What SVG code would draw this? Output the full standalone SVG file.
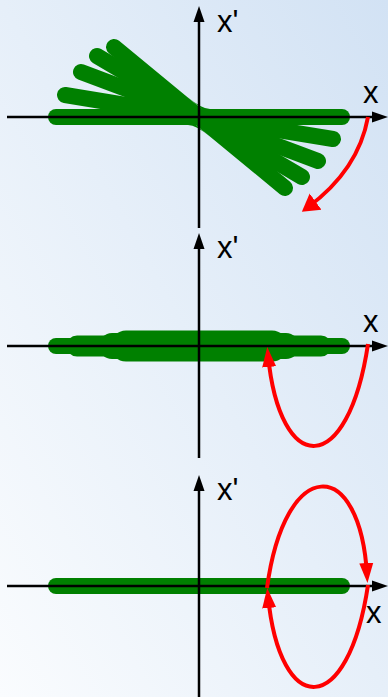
<svg xmlns="http://www.w3.org/2000/svg" width="388" height="697" viewBox="0 0 388 697">
  <defs>
    <linearGradient id="bg" x1="0" y1="1" x2="1" y2="0">
      <stop offset="0" stop-color="#fafcfe"/>
      <stop offset="1" stop-color="#d2e2f4"/>
    </linearGradient>
    <marker id="axisHead" markerUnits="userSpaceOnUse" viewBox="0 -6 16 12" refX="10" refY="0" markerWidth="16" markerHeight="12" orient="auto">
      <path d="M0,-5.5 L16,0 L0,5.5 z" fill="#000"/>
    </marker>
    <marker id="redHead" markerUnits="userSpaceOnUse" viewBox="0 -8 20 16" refX="12" refY="0" markerWidth="20" markerHeight="16" orient="auto">
      <path d="M0,-7 L20,0 L0,7 z" fill="#ff0000"/>
    </marker>
    <marker id="redHeadWide" markerUnits="userSpaceOnUse" viewBox="0 -11 18 22" refX="10" refY="0" markerWidth="18" markerHeight="22" orient="auto">
      <path d="M0,-10 L17,0 L0,10 z" fill="#ff0000"/>
    </marker>
  </defs>
  <style>
    .bar { stroke: #008000; stroke-linecap: round; fill: none; }
    .fillet { fill: #008000; stroke: none; }
    .axis { stroke: #000; stroke-width: 2.5; fill: none; marker-end: url(#axisHead); }
    .flow { stroke: #ff0000; stroke-width: 4; fill: none; marker-end: url(#redHead); }
    .lbl { font-family: "Liberation Sans", Arial, sans-serif; font-size: 31px; fill: #000; }
  </style>
  <rect x="0" y="0" width="388" height="697" fill="url(#bg)"/>

  <g id="panel1">
    <g id="bars1" stroke-width="16">
      <line class="bar" x1="56" y1="117" x2="342" y2="117"/>
      <line class="bar" x1="65" y1="95" x2="333" y2="139"/>
      <line class="bar" x1="81" y1="72" x2="318" y2="161"/>
      <line class="bar" x1="97" y1="56" x2="302" y2="177"/>
      <line class="bar" x1="114" y1="47" x2="285" y2="188"/>
      <path class="fillet" d="M187.4,97 Q201.9,109 210,109 L201.9,109 Z"/>
      <path class="fillet" d="M210.6,137 Q196.1,125 188,125 L196.1,125 Z"/>
    </g>
    <g id="axes1">
      <line class="axis" x1="7" y1="117" x2="382" y2="117"/>
      <line class="axis" x1="199" y1="228" x2="199" y2="12"/>
    </g>
    <text class="lbl" x="217" y="32">x'</text>
    <text class="lbl" x="363" y="103">x</text>
  </g>

  <g id="panel2">
    <g id="bars2">
      <line class="bar" stroke-width="16" x1="56" y1="346" x2="342" y2="346"/>
      <line class="bar" stroke-width="21" x1="77" y1="346" x2="321" y2="346"/>
      <line class="bar" stroke-width="26" x1="112" y1="346" x2="286" y2="346"/>
      <line class="bar" stroke-width="31" x1="126" y1="346" x2="272" y2="346"/>
    </g>
    <g id="axes2">
      <line class="axis" x1="7" y1="346" x2="382" y2="346"/>
      <line class="axis" x1="199" y1="458" x2="199" y2="239"/>
    </g>
    <text class="lbl" x="217" y="258">x'</text>
    <text class="lbl" x="363" y="332">x</text>
  </g>

  <g id="panel3">
    <g id="bars3">
      <line class="bar" stroke-width="16" x1="56" y1="586" x2="342" y2="586"/>
    </g>
    <g id="axes3">
      <line class="axis" x1="7" y1="586" x2="382" y2="586"/>
      <line class="axis" x1="199" y1="697" x2="199" y2="481"/>
    </g>
    <text class="lbl" x="217" y="500">x'</text>
    <text class="lbl" x="366" y="623">x</text>
  </g>

  <g id="connectors">
    <path class="flow" style="marker-end: url(#redHeadWide)" d="M368,117 C362,150 345,180 307.5,207.5"/>
    <path class="flow" d="M368,344 C348,478 280,478 268,355"/>
    <path class="flow" d="M267,588 C285,455 360,455 367,575"/>
    <path class="flow" d="M368,585 C348,719 280,719 268,596"/>
  </g>
</svg>
